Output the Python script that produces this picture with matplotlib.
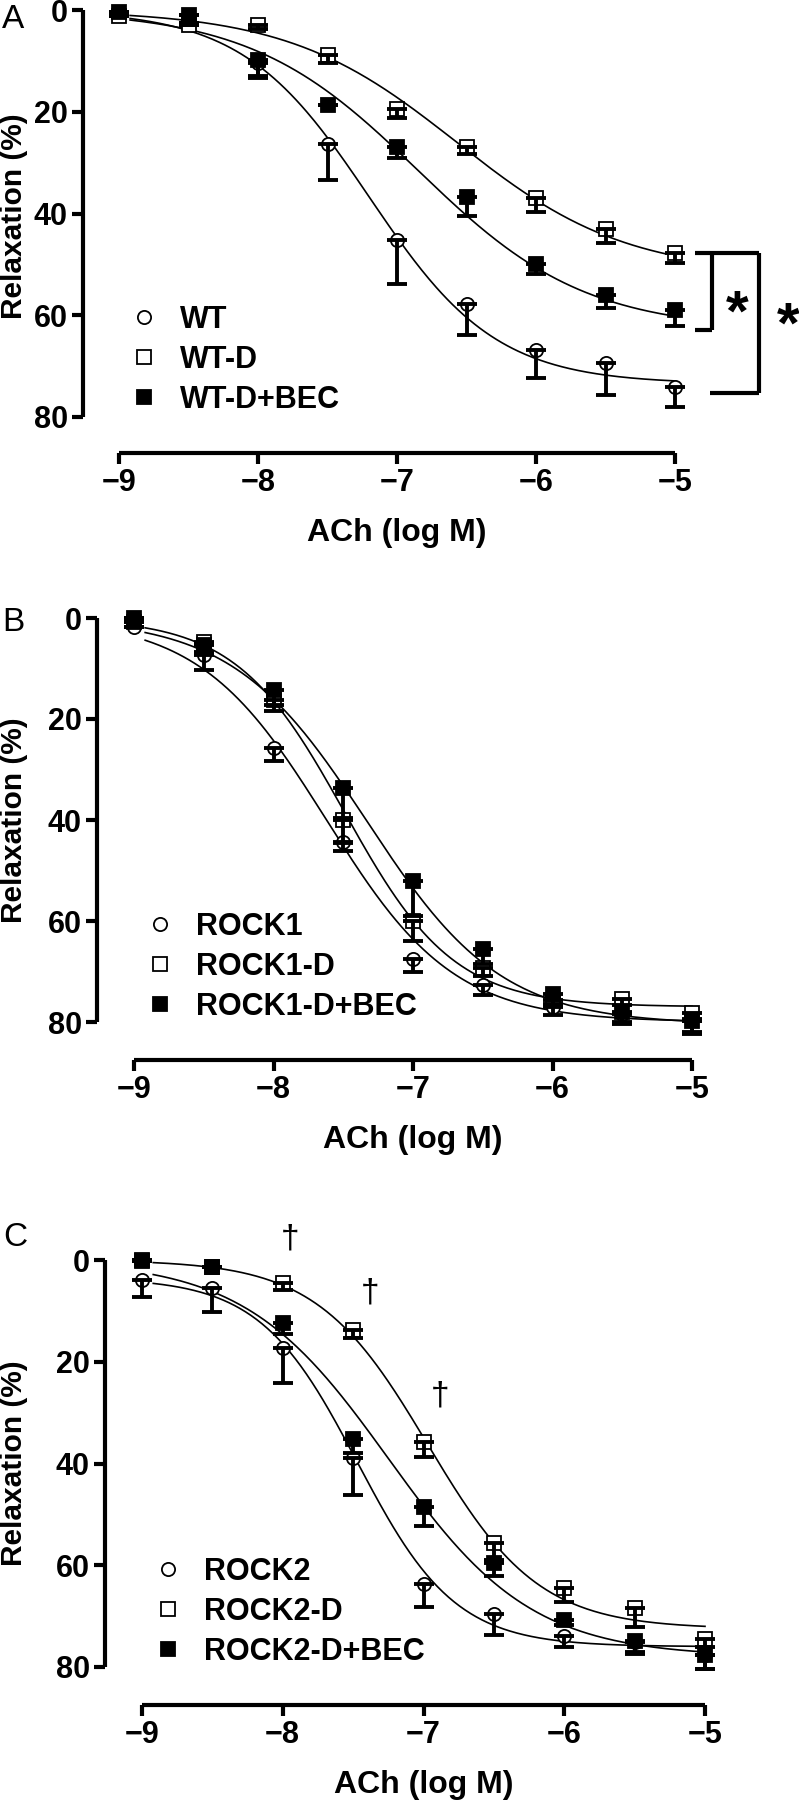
import numpy as np
import matplotlib
matplotlib.use("Agg")
import matplotlib.pyplot as plt
from matplotlib.lines import Line2D

plt.rcParams['font.family'] = ['Liberation Sans', 'DejaVu Sans']

# ---------------- data ----------------
log_ach = [-9, -8.5, -8, -7.5, -7, -6.5, -6, -5.5, -5]

# Panel A
wt = [0.4, 2.5, 10.5, 26.3, 45.3, 57.8, 66.8, 69.4, 74.1]
wt_err = [0.0, 0.0, 2.5, 7.2, 8.5, 6.1, 5.5, 6.3, 3.9]
wt_d = [1.2, 3.0, 3.0, 8.9, 19.5, 26.9, 37.0, 43.0, 47.8]
wt_d_err = [0.0, 0.0, 0.8, 1.6, 1.8, 1.5, 2.8, 2.8, 2.0]
wt_d_bec = [0.4, 1.0, 9.9, 18.7, 27.0, 36.8, 49.9, 56.0, 59.0]
wt_d_bec_err = [0.0, 0.0, 3.4, 0.0, 2.0, 3.6, 2.0, 2.6, 3.1]

# Panel B
rock1 = [1.8, 7.3, 25.7, 44.4, 67.5, 72.7, 77.0, 78.5, 79.5]
rock1_err = [0.0, 3.0, 2.7, 1.8, 2.5, 2.0, 1.6, 1.8, 2.5]
rock1_d = [0.8, 4.7, 16.2, 40.0, 60.0, 69.4, 75.7, 75.5, 78.3]
rock1_d_err = [0.0, 2.5, 2.3, 4.5, 3.9, 1.5, 1.0, 1.2, 1.5]
rock1_d_bec = [0.0, 5.3, 14.2, 33.6, 52.0, 65.5, 74.5, 78.0, 79.8]
rock1_d_bec_err = [0.0, 1.5, 3.0, 6.0, 7.0, 3.0, 2.0, 2.0, 2.5]

# Panel C
rock2 = [3.9, 5.5, 17.3, 39.0, 63.7, 69.6, 74.0, 75.0, 77.7]
rock2_err = [3.3, 4.7, 6.8, 7.2, 4.6, 4.2, 2.0, 2.0, 2.6]
rock2_d = [0.0, 1.3, 4.6, 13.8, 35.8, 55.6, 64.4, 68.4, 74.5]
rock2_d_err = [0.0, 0.0, 1.3, 1.6, 2.9, 3.3, 2.9, 3.8, 1.5]
rock2_d_bec = [0.2, 1.3, 12.3, 35.1, 48.5, 59.5, 70.8, 74.9, 77.7]
rock2_d_bec_err = [0.0, 0.0, 2.2, 2.9, 3.7, 2.6, 1.0, 2.6, 2.6]

# Sigmoidal fit parameters: top, bottom, logEC50, hill slope
fit_wt = [0.0, 73.5, -7.2, 0.95]
fit_wt_d = [0.0, 52.0, -6.57, 0.713]
fit_wt_d_bec = [0.0, 63.0, -6.85, 0.72]
fit_rock1 = [0.0, 80.0, -7.62, 0.95]
fit_rock1_d = [0.0, 77.0, -7.49, 1.11]
fit_rock1_d_bec = [0.0, 80.5, -7.33, 0.9]
fit_rock2 = [3.5, 76.0, -7.47, 1.25]
fit_rock2_d = [0.0, 72.5, -6.97, 1.1]
fit_rock2_d_bec = [0.0, 78.0, -7.25, 0.85]

labels_a = ["WT", "WT-D", "WT-D+BEC"]
labels_b = ["ROCK1", "ROCK1-D", "ROCK1-D+BEC"]
labels_c = ["ROCK2", "ROCK2-D", "ROCK2-D+BEC"]
y_ticks = [0, 20, 40, 60, 80]
x_ticks = [-9, -8, -7, -6, -5]

# ---------------- figure ----------------
W, H = 799, 1800
fig = plt.figure(figsize=(W / 100, H / 100), dpi=100)


def add_axes_px(x0, x1, ytop, ybot):
    return fig.add_axes([x0 / W, 1 - ybot / H, (x1 - x0) / W, (ybot - ytop) / H])


def sigmoid(x, p):
    top, bot, ec, h = p
    return top + (bot - top) / (1 + 10 ** ((ec - x) * h))


styles = [
    dict(marker='o', mfc='white', mec='black', ms=9.5, mew=1.3),
    dict(marker='s', mfc='white', mec='black', ms=9.5, mew=1.3),
    dict(marker='s', mfc='black', mec='black', ms=9.5, mew=1.3),
]


def panel(ax, series, errs, fits, labels, leg_xy, letter, letter_xy,
          left_out, bottom_out, ylab_y):
    xs = np.linspace(-8.92, -5, 300)
    for p in fits:
        ax.plot(xs, sigmoid(xs, p), color='black', lw=1.2, zorder=2, clip_on=False)
    for y, e, st in zip(series, errs, styles):
        ax.plot(log_ach, y, ls='none', zorder=3, clip_on=False, **st)
        yerr = [np.zeros(len(e)), np.array(e)]
        eb = ax.errorbar(log_ach, y, yerr=yerr, fmt='none', ecolor='black',
                         elinewidth=2.8, capsize=7.5, capthick=2.8, zorder=4)
        for art in list(eb.lines[1]) + list(eb.lines[2]):
            art.set_clip_on(False)
    ax.set_xlim(-9, -5)
    ax.set_ylim(80, 0)
    ax.set_yticks(y_ticks)
    ax.set_xticks(x_ticks)
    for s in ['top', 'right']:
        ax.spines[s].set_visible(False)
    ax.spines['left'].set_position(('outward', left_out * 0.72))
    ax.spines['bottom'].set_position(('outward', bottom_out * 0.72))
    for s in ['left', 'bottom']:
        ax.spines[s].set_linewidth(3.0)
        ax.spines[s].set_capstyle('butt')
    ax.tick_params(axis='both', width=3.0, length=8, labelsize=22, pad=3)
    for lab in ax.get_xticklabels() + ax.get_yticklabels():
        lab.set_fontweight('bold')
    ax.set_xlabel("ACh (log M)", fontsize=23, fontweight='bold', labelpad=14)
    ax.set_ylabel("Relaxation (%)", fontsize=21.5, fontweight='bold',
                  va='center', ha='center')
    ax.yaxis.set_label_coords(14 / W, 1 - ylab_y / H, transform=fig.transFigure)
    ax.patch.set_visible(False)
    handles = [Line2D([], [], ls='none', **st) for st in styles]
    ax.legend(handles, labels, loc='upper left',
              bbox_to_anchor=(leg_xy[0] / W, 1 - leg_xy[1] / H),
              bbox_transform=fig.transFigure, frameon=False,
              borderpad=0, borderaxespad=0, handlelength=0.9,
              handletextpad=0.75, labelspacing=0.33,
              prop=dict(size=22, weight='bold'))
    fig.text(letter_xy[0] / W, 1 - letter_xy[1] / H, letter, fontsize=24,
             ha='left', va='center')


# Panel A
axA = add_axes_px(119, 675, 10, 417)
panel(axA, [wt, wt_d, wt_d_bec], [wt_err, wt_d_err, wt_d_bec_err],
      [fit_wt, fit_wt_d, fit_wt_d_bec], labels_a, (130, 305), "A", (2, 19),
      36, 36, 216)
# significance brackets (data coordinates of panel A)
brk = dict(color='black', lw=3.0, clip_on=False, solid_capstyle='butt')
axA.plot([-4.856, -4.396], [47.8, 47.8], **brk)
axA.plot([-4.734, -4.734], [47.8, 62.9], **brk)
axA.plot([-4.856, -4.734], [62.9, 62.9], **brk)
axA.plot([-4.396, -4.396], [47.8, 75.3], **brk)
axA.plot([-4.748, -4.396], [75.3, 75.3], **brk)
axA.text(-4.555, 60.0, "*", fontsize=42, fontweight='bold', ha='center',
         va='center', clip_on=False)
axA.text(-4.185, 62.5, "*", fontsize=42, fontweight='bold', ha='center',
         va='center', clip_on=False)

# Panel B
axB = add_axes_px(134, 692, 618, 1022)
panel(axB, [rock1, rock1_d, rock1_d_bec], [rock1_err, rock1_d_err, rock1_d_bec_err],
      [fit_rock1, fit_rock1_d, fit_rock1_d_bec], labels_b, (146, 912), "B", (2, 623),
      37, 38, 820)

# Panel C
axC = add_axes_px(142, 705, 1260, 1667)
panel(axC, [rock2, rock2_d, rock2_d_bec], [rock2_err, rock2_d_err, rock2_d_bec_err],
      [fit_rock2, fit_rock2_d, fit_rock2_d_bec], labels_c, (154, 1557), "C", (3, 1238),
      37, 38, 1463)
for dx, dy in [(-7.95, -4.2), (-7.38, 6.4), (-6.88, 26.7)]:
    axC.text(dx, dy, "\u2020", fontsize=24, ha='center', va='center', clip_on=False)

fig.savefig("out.png", dpi=100)
